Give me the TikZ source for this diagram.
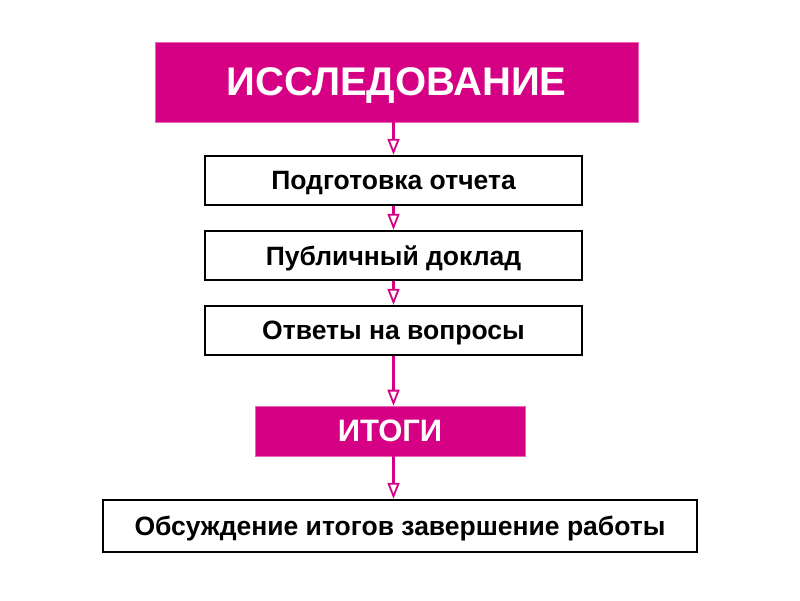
\documentclass[tikz,border=0pt]{standalone}
\usepackage{fontspec}
\setmainfont{Liberation Sans}
\usetikzlibrary{arrows.meta}
\definecolor{mag}{RGB}{214,0,132}
\begin{document}
\begin{tikzpicture}[x=1pt,y=-1pt,
  magbox/.style={fill=mag,draw=mag!60,line width=0.6pt,inner sep=0pt,text=white,font=\bfseries},
  wbox/.style={draw=black,line width=2.4pt,inner sep=0pt,text depth=0pt,font=\bfseries\fontsize{26.5}{31}\selectfont},
  conn/.style={draw=mag,line width=2.5pt,-{Triangle[open,length=16pt,width=12pt,line width=1.8pt,fill=white]}}]
\useasboundingbox (0,0) rectangle (800,600);
\node[magbox,minimum width=483pt,minimum height=80pt,text depth=-6pt,font=\bfseries\fontsize{40}{48}\selectfont] (a) at (396.5,82) {ИССЛЕДОВАНИЕ};
\node[wbox,minimum width=377pt,minimum height=49pt] (b) at (393.5,180.5) {Подготовка отчета};
\node[wbox,minimum width=377pt,minimum height=49pt] (c) at (393.5,255.5) {Публичный доклад};
\node[wbox,minimum width=377pt,minimum height=49pt] (d) at (393.5,330.5) {Ответы на вопросы};
\node[magbox,minimum width=270pt,minimum height=50pt,font=\bfseries\fontsize{31}{36}\selectfont] (e) at (390,431) {ИТОГИ};
\node[wbox,minimum width=594pt,minimum height=52pt] (f) at (400,526) {Обсуждение итогов завершение работы};
\draw[conn] (b.north |- a.south) -- (b.north);
\draw[conn] (b.south) -- (c.north);
\draw[conn] (c.south) -- (d.north);
\draw[conn] (d.south) -- (d.south |- e.north);
\draw[conn] (d.south |- e.south) -- (d.south |- f.north);
\end{tikzpicture}
\end{document}
